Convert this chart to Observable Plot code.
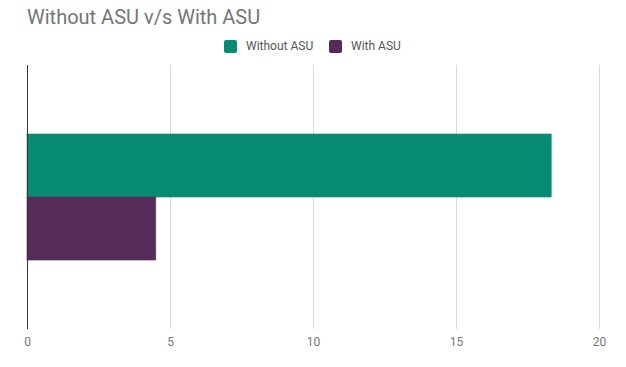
<!DOCTYPE html>
<html>
<head>
<meta charset="utf-8">
<script src="https://cdn.jsdelivr.net/npm/d3@7"></script>
<script src="https://cdn.jsdelivr.net/npm/@observablehq/plot@0.6"></script>
<style>
  body { margin: 0; background: #fff; font-family: Roboto, sans-serif; }
  #wrap { position: relative; width: 626px; height: 367px; overflow: hidden; }
  #title { position: absolute; left: 27px; top: 5px; font-size: 20px; color: #757575; white-space: nowrap; }
  #legend { position: absolute; top: 39px; left: 0; width: 626px; height: 16px; font-size: 12px; color: #555; }
  .item { position: absolute; top: 0; display: flex; align-items: center; white-space: nowrap; }
  .sw { width: 13px; height: 13px; border-radius: 2px; margin-right: 9px; }
  #chart { position: absolute; left: 0; top: 60px; }
</style>
</head>
<body>
<div id="wrap">
  <div id="title">Without ASU v/s With ASU</div>
  <div id="legend"></div>
  <div id="chart"></div>
</div>
<script>
const series = ["Without ASU", "With ASU"];
const values = [18.33, 4.5];
const colors = ["#078b72", "#552b57"];
const xTicks = [0, 5, 10, 15, 20];

const data = series.map((s, i) => ({series: s, value: values[i]}));

// legend
const legend = document.getElementById("legend");
const legendX = [224, 329];
series.forEach((s, i) => {
  const it = document.createElement("div");
  it.className = "item";
  it.style.left = legendX[i] + "px";
  it.innerHTML = `<div class="sw" style="background:${colors[i]}"></div><span>${s}</span>`;
  legend.appendChild(it);
});

const chart = Plot.plot({
  width: 626,
  height: 307,
  marginTop: 5,
  marginBottom: 38,
  marginLeft: 27,
  marginRight: 27,
  style: {fontFamily: "Roboto, sans-serif", fontSize: "12px", color: "#777", background: "white"},
  x: {domain: [0, 20], ticks: xTicks, label: null},
  y: {domain: series, paddingInner: 0, paddingOuter: 1.095, axis: null},
  color: {domain: series, range: colors},
  marks: [
    Plot.ruleX(xTicks.filter(d => d !== 0), {stroke: "#d9d9d9", strokeWidth: 1}),
    Plot.barX(data, {y: "series", x: "value", fill: "series", stroke: "series", strokeOpacity: 0.6, inset: 0}),
    Plot.ruleX([0], {stroke: "#333", strokeWidth: 1}),
    Plot.axisX({ticks: xTicks, tickSize: 0, tickPadding: 8, label: null, fill: "#777", fontSize: 12})
  ]
});
document.getElementById("chart").appendChild(chart);
</script>
</body>
</html>
